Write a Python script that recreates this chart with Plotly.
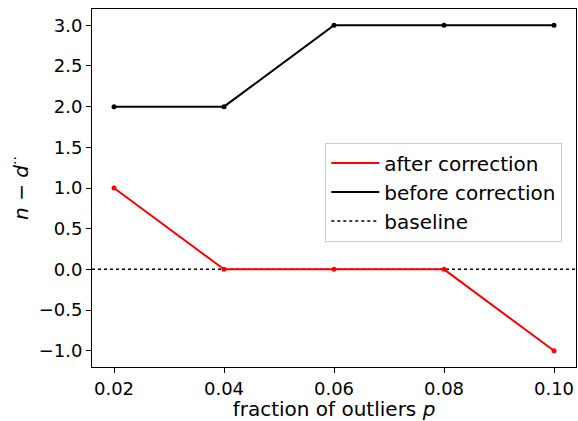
import plotly.graph_objects as go

p = [0.02, 0.04, 0.06, 0.08, 0.10]
after = [1, 0, 0, 0, -1]
before = [2, 2, 3, 3, 3]
baseline = [0, 0]
baseline_x = [0.016, 0.104]
xticks = [0.02, 0.04, 0.06, 0.08, 0.10]
xtick_text = ["0.02", "0.04", "0.06", "0.08", "0.10"]
yticks = [-1.0, -0.5, 0.0, 0.5, 1.0, 1.5, 2.0, 2.5, 3.0]
ytick_text = ["−1.0", "−0.5", "0.0", "0.5", "1.0", "1.5", "2.0", "2.5", "3.0"]

font = "DejaVu Sans"
fs = 18
fl = 20
fig = go.Figure()
fig.add_trace(go.Scatter(x=baseline_x, y=baseline, mode="lines", showlegend=False,
                         line=dict(color="black", width=1.5, dash="dot")))
fig.add_trace(go.Scatter(x=p, y=after, mode="lines", name="after correction", legendgroup="a",
                         line=dict(color="red", width=2)))
fig.add_trace(go.Scatter(x=p, y=after, mode="markers", showlegend=False, legendgroup="a",
                         marker=dict(color="red", size=5)))
fig.add_trace(go.Scatter(x=p, y=before, mode="lines", name="before correction", legendgroup="b",
                         line=dict(color="black", width=2)))
fig.add_trace(go.Scatter(x=p, y=before, mode="markers", showlegend=False, legendgroup="b",
                         marker=dict(color="black", size=5)))
fig.add_trace(go.Scatter(x=[None], y=[None], mode="lines", name="baseline", legendgroup="c",
                         line=dict(color="black", width=1.5, dash="dot")))

fig.update_layout(
    width=578, height=421,
    margin=dict(l=92, r=2, t=9, b=54),
    plot_bgcolor="white", paper_bgcolor="white",
    font=dict(family=font, size=fs, color="black"),
    showlegend=True,
    legend=dict(x=0.482, y=0.627, xanchor="left", yanchor="top",
                bgcolor="rgba(255,255,255,0.8)", bordercolor="#cccccc", borderwidth=1,
                font=dict(size=fl, family=font), itemwidth=48, tracegroupgap=0,
                traceorder="grouped"),
)
fig.update_xaxes(range=[0.016, 0.104], tickvals=xticks, ticktext=xtick_text,
                 showgrid=False, zeroline=False, showline=True, linecolor="black", linewidth=1,
                 mirror=True, ticks="outside", ticklen=5, tickcolor="black",
                 title=dict(text="fraction of outliers <i>p</i>", font=dict(size=fl), standoff=2))
fig.update_yaxes(range=[-1.2, 3.2], tickvals=yticks, ticktext=ytick_text,
                 showgrid=False, zeroline=False, showline=True, linecolor="black", linewidth=1,
                 mirror=True, ticks="outside", ticklen=5, tickcolor="black",
                 title=dict(text="<i>n</i> − <i>d</i><sup>··</sup>", font=dict(size=fl), standoff=4))
fig.write_html("out.html")
